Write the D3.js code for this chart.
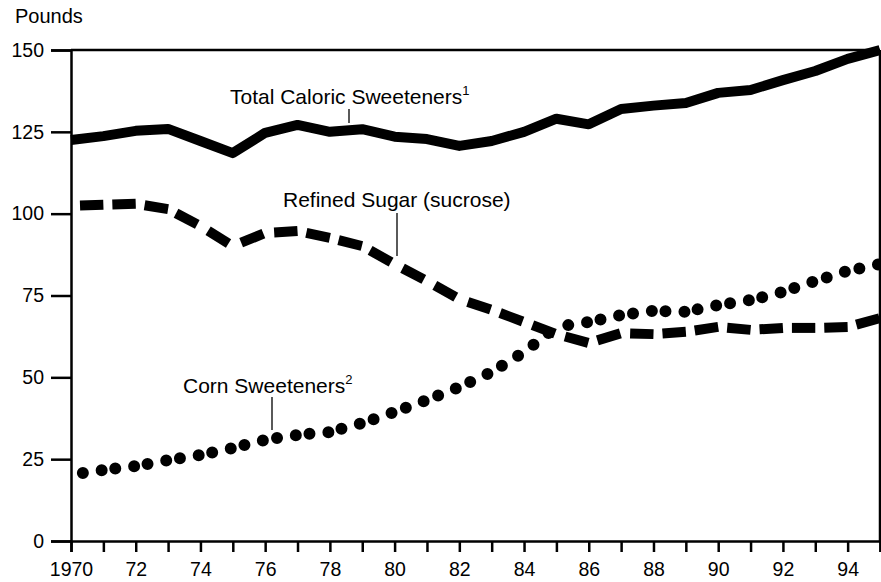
<!DOCTYPE html>
<html>
<head>
<meta charset="utf-8">
<script src="https://cdn.jsdelivr.net/npm/d3@7"></script>
<style>
  body { margin: 0; background: #fff; }
  svg text { font-family: "Liberation Sans", Arial, sans-serif; fill: #000; }
</style>
</head>
<body>
<svg id="chart" width="881" height="582"></svg>
<script>
// years on the x axis
const years = d3.range(1970, 1996);

// pounds per capita
const totalCaloric = [122.5, 123.7, 125.3, 125.9, 122.2, 118.5, 124.7, 127.1, 125.0, 125.8,
  123.5, 122.8, 120.7, 122.2, 125.0, 129.0, 127.3, 132.0, 133.0, 133.8,
  136.9, 137.8, 140.8, 143.6, 147.3, 150.0];
const refinedSugar = [102.4, 102.7, 103.0, 101.4, 96.2, 90.1, 94.1, 94.7, 92.6, 90.1,
  84.6, 79.4, 73.9, 70.6, 66.9, 63.2, 60.5, 63.5, 63.2, 63.9,
  65.4, 64.5, 65.1, 65.1, 65.4, 68.1];
const cornSweeteners = [20.2, 21.7, 22.9, 24.7, 26.3, 28.4, 30.9, 32.4, 33.3, 36.0,
  39.4, 43.1, 47.0, 51.6, 57.7, 65.4, 66.9, 69.0, 70.3, 70.0,
  72.1, 73.6, 76.1, 79.4, 82.5, 84.6];

const yTicks = [0, 25, 50, 75, 100, 125, 150];

const svg = d3.select('#chart');
const mLeft = 71, mRight = 880, mTop = 50, mBottom = 541;

const x = d3.scaleLinear().domain([1970, 1995]).range([mLeft, mRight]);
const y = d3.scaleLinear().domain([0, 150]).range([mBottom, mTop]);

// y axis
const yAxis = svg.append('g')
  .attr('transform', `translate(${mLeft},0)`)
  .call(d3.axisLeft(y).tickValues(yTicks).tickSize(20).tickPadding(7));
yAxis.select('.domain').attr('stroke-width', 2.5);
yAxis.selectAll('.tick line').attr('stroke-width', 2.5);
yAxis.selectAll('.tick text').style('font-size', '19.5px').attr('fill', '#000');

// x axis
const xAxis = svg.append('g')
  .attr('transform', `translate(0,${mBottom})`)
  .call(d3.axisBottom(x).tickValues(years).tickSize(11).tickPadding(10)
    .tickFormat(d => d % 2 ? '' : (d === 1970 ? '1970' : String(d).slice(2))));
xAxis.select('.domain').attr('stroke-width', 2.5);
xAxis.selectAll('.tick line').attr('stroke-width', 2.5);
xAxis.selectAll('.tick text').style('font-size', '19.5px').attr('fill', '#000');

// frame: top and right
svg.append('line').attr('x1', mLeft).attr('x2', mRight).attr('y1', mTop).attr('y2', mTop)
  .attr('stroke', '#000').attr('stroke-width', 2.5);
svg.append('line').attr('x1', mRight).attr('x2', mRight).attr('y1', mTop).attr('y2', mBottom)
  .attr('stroke', '#000').attr('stroke-width', 2.5);

svg.append('text').attr('x', 15).attr('y', 23).style('font-size', '20px').text('Pounds');

const line = d3.line().x(d => x(d[0])).y(d => y(d[1]));

svg.append('path').datum(years.map((yr, i) => [yr, totalCaloric[i]])).attr('d', line)
  .attr('fill', 'none').attr('stroke', '#000').attr('stroke-width', 10)
  .attr('stroke-linejoin', 'round');

// dashed and dotted series: pattern restarts on every year segment
function segments(values) {
  return d3.pairs(years.map((yr, i) => [yr, values[i]]));
}

svg.append('g').selectAll('path').data(segments(refinedSugar)).join('path')
  .attr('d', line)
  .attr('fill', 'none').attr('stroke', '#000').attr('stroke-width', 10)
  .attr('stroke-dasharray', '24 100').attr('stroke-dashoffset', -9);

svg.append('g').selectAll('path').data(segments(cornSweeteners)).join('path')
  .attr('d', line)
  .attr('fill', 'none').attr('stroke', '#000').attr('stroke-width', 12)
  .attr('stroke-linecap', 'round')
  .attr('stroke-dasharray', '0 19').attr('stroke-dashoffset', -12);

// series labels with leader lines
function label(tx, ty, txt, sup, lx, ly1, ly2) {
  const t = svg.append('text').attr('x', tx).attr('y', ty).style('font-size', '21px');
  t.append('tspan').text(txt);
  if (sup) t.append('tspan').attr('dy', -9).style('font-size', '13px').text(sup);
  svg.append('line').attr('x1', lx).attr('x2', lx).attr('y1', ly1).attr('y2', ly2)
    .attr('stroke', '#000').attr('stroke-width', 1.3);
}
label(230, 104, 'Total Caloric Sweeteners', '1', 349, 109, 123);
label(283, 207, 'Refined Sugar (sucrose)', null, 397, 213, 256);
label(183, 393, 'Corn Sweeteners', '2', 272, 397, 430);
</script>
</body>
</html>
